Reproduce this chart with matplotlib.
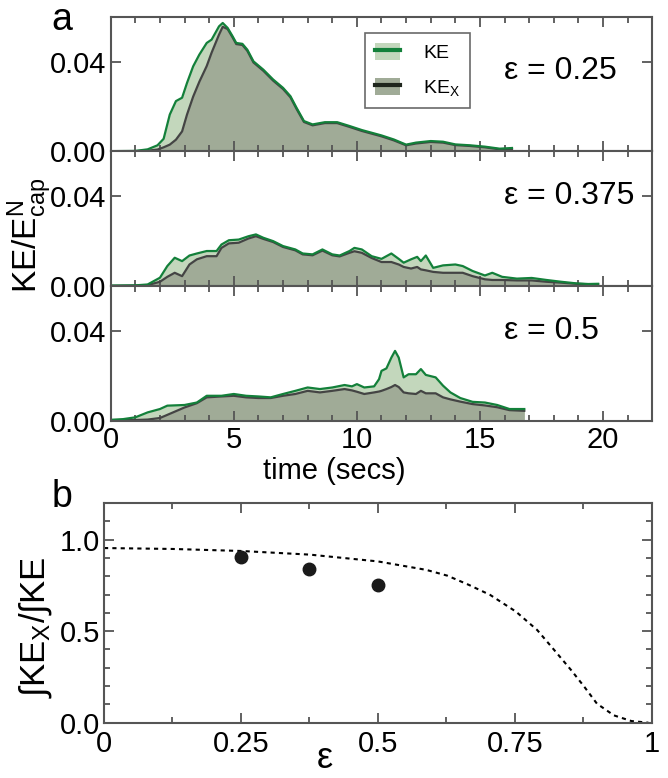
import matplotlib
matplotlib.use('Agg')
import matplotlib.pyplot as plt
from matplotlib.patches import Patch
from matplotlib.lines import Line2D
from matplotlib.ticker import MultipleLocator, FixedLocator

plt.rcParams['font.family'] = ['Liberation Sans', 'DejaVu Sans']
plt.rcParams['mathtext.fontset'] = 'custom'
plt.rcParams['mathtext.rm'] = 'Liberation Sans'
plt.rcParams['mathtext.it'] = 'Liberation Sans'

# panel a, eps = 0.25
t1 = [0, 1.0, 1.5, 1.9, 2.15, 2.4, 2.65, 2.9, 3.1, 3.35, 3.6, 3.9, 4.1, 4.4, 4.55,
      4.75, 4.95, 5.1, 5.35, 5.55, 5.8, 6.2, 6.6, 7.0, 7.3, 7.55, 7.85, 8.2, 8.7, 9.2,
      9.7, 10.2, 11.0, 11.5, 12.0, 12.4, 13.0, 13.5, 14.0, 14.6, 15.2, 15.8, 16.3]
ke1 = [0.0001, 0.0002, 0.0009, 0.0027, 0.0056, 0.0164, 0.0224, 0.0239, 0.0305, 0.0379,
       0.0431, 0.0483, 0.0498, 0.0557, 0.0572, 0.0550, 0.0513, 0.0483, 0.0479, 0.0453,
       0.0401, 0.0364, 0.0320, 0.0283, 0.0246, 0.0194, 0.0135, 0.0120, 0.0130, 0.0130,
       0.0113, 0.0095, 0.0071, 0.0053, 0.0030, 0.0039, 0.0046, 0.0043, 0.0031, 0.0027,
       0.0021, 0.0012, 0.0015]
kex1 = [0.0, 0.0001, 0.0003, 0.0008, 0.0018, 0.0030, 0.0052, 0.0089, 0.0164, 0.0244,
        0.0310, 0.0380, 0.0440, 0.0520, 0.0555, 0.0545, 0.0508, 0.0478, 0.0474, 0.0448,
        0.0396, 0.0359, 0.0315, 0.0278, 0.0241, 0.0189, 0.0131, 0.0116, 0.0126, 0.0126,
        0.0109, 0.0091, 0.0067, 0.0049, 0.0027, 0.0035, 0.0042, 0.0039, 0.0028, 0.0024,
        0.0018, 0.0009, 0.0011]

# panel a, eps = 0.375
t2 = [0, 1.0, 1.5, 2.0, 2.3, 2.6, 2.9, 3.2, 3.5, 3.9, 4.3, 4.5, 4.8, 5.2, 5.6, 5.9,
      6.2, 6.6, 7.0, 7.5, 7.8, 8.2, 8.6, 9.0, 9.3, 9.7, 9.9, 10.2, 10.6, 11.0, 11.4,
      11.7, 11.9, 12.2, 12.45, 12.6, 12.8, 13.1, 13.5, 14.0, 14.3, 14.7, 15.2, 15.5,
      15.9, 16.5, 17.1, 17.7, 18.3, 18.9, 19.4, 19.8]
ke2 = [0.0002, 0.0003, 0.0007, 0.0037, 0.0089, 0.0126, 0.0111, 0.0136, 0.0145, 0.0156,
       0.0156, 0.0185, 0.0204, 0.0207, 0.0222, 0.0230, 0.0215, 0.0200, 0.0178, 0.0163,
       0.0145, 0.0141, 0.0163, 0.0141, 0.0136, 0.0156, 0.0170, 0.0163, 0.0133, 0.0121,
       0.0145, 0.0121, 0.0104, 0.0119, 0.0130, 0.0111, 0.0136, 0.0081, 0.0092, 0.0096,
       0.0089, 0.0067, 0.0047, 0.0059, 0.0041, 0.0033, 0.0036, 0.0027, 0.0019, 0.0012,
       0.0009, 0.0010]
kex2 = [0.0001, 0.0002, 0.0004, 0.0019, 0.0041, 0.0059, 0.0044, 0.0096, 0.0119, 0.0133,
        0.0133, 0.0170, 0.0190, 0.0193, 0.0212, 0.0222, 0.0210, 0.0196, 0.0174, 0.0159,
        0.0141, 0.0137, 0.0158, 0.0137, 0.0132, 0.0148, 0.0155, 0.0148, 0.0125, 0.0107,
        0.0107, 0.0096, 0.0085, 0.0078, 0.0085, 0.0074, 0.0070, 0.0063, 0.0059, 0.0059,
        0.0059, 0.0044, 0.0030, 0.0027, 0.0027, 0.0025, 0.0025, 0.0019, 0.0015, 0.0010,
        0.0008, 0.0008]

# panel a, eps = 0.5
t3 = [0, 0.5, 1.0, 1.5, 2.0, 2.3, 3.0, 3.5, 3.9, 4.5, 5.0, 5.5, 6.0, 6.5, 7.0, 7.5,
      8.0, 8.5, 9.0, 9.5, 9.8, 10.0, 10.3, 10.7, 10.9, 11.0, 11.2, 11.4, 11.55, 11.7,
      11.9, 12.1, 12.4, 12.6, 12.8, 13.2, 13.5, 13.8, 14.2, 14.7, 15.2, 15.7, 16.2, 16.8]
ke3 = [0.0004, 0.0007, 0.0015, 0.0037, 0.0052, 0.0067, 0.0070, 0.0081, 0.0111, 0.0111,
       0.0119, 0.0111, 0.0108, 0.0104, 0.0119, 0.0133, 0.0148, 0.0141, 0.0148, 0.0159,
       0.0153, 0.0163, 0.0148, 0.0153, 0.0185, 0.0222, 0.0233, 0.0281, 0.0311, 0.0281,
       0.0193, 0.0207, 0.0207, 0.0230, 0.0204, 0.0193, 0.0156, 0.0126, 0.0101, 0.0084,
       0.0081, 0.0070, 0.0052, 0.0052]
kex3 = [0.0002, 0.0003, 0.0003, 0.0005, 0.0012, 0.0026, 0.0059, 0.0078, 0.0104, 0.0108,
        0.0111, 0.0104, 0.0101, 0.0101, 0.0111, 0.0119, 0.0133, 0.0126, 0.0133, 0.0141,
        0.0135, 0.0129, 0.0119, 0.0126, 0.0130, 0.0133, 0.0141, 0.0150, 0.0159, 0.0150,
        0.0126, 0.0122, 0.0119, 0.0133, 0.0122, 0.0122, 0.0104, 0.0095, 0.0085, 0.0074,
        0.0068, 0.0060, 0.0047, 0.0044]

eps_labels = ['ε = 0.25', 'ε = 0.375', 'ε = 0.5']

# panel b
eps_pts = [0.25, 0.375, 0.5]
ratio_pts = [0.905, 0.839, 0.753]
eps_curve = [0, 0.125, 0.25, 0.376, 0.5, 0.588, 0.627, 0.666, 0.705, 0.752, 0.791,
             0.822, 0.853, 0.877, 0.9, 0.931, 0.963, 0.994]
ratio_curve = [0.954, 0.949, 0.938, 0.918, 0.881, 0.835, 0.803, 0.753, 0.698, 0.607,
               0.506, 0.397, 0.287, 0.196, 0.104, 0.040, 0.009, 0.0]

KE_LINE = '#13803a'
KE_FILL = '#c3d7bc'
KX_LINE = '#444444'
KX_FILL = '#a0ab97'
FRAME = '#555555'
TICK_FS = 21


def style_axes(ax):
    for s in ax.spines.values():
        s.set_color(FRAME)
        s.set_linewidth(1.5)
    ax.tick_params(which='both', direction='in', top=True, right=True,
                   color=FRAME, width=1.3, labelsize=TICK_FS)
    ax.tick_params(which='major', length=7)
    ax.tick_params(which='minor', length=4)


fig = plt.figure(figsize=(6.68, 7.78), dpi=100)

left, right = 110.7 / 668, 652.3 / 668
top_a, bot_a = 1 - 16.7 / 778, 1 - 420.7 / 778
h = (top_a - bot_a) / 3

data = [(t1, ke1, kex1), (t2, ke2, kex2), (t3, ke3, kex3)]
text_y = [0.594, 0.668, 0.668]
axes_a = []
for i, (t, ke, kex) in enumerate(data):
    ax = fig.add_axes([left, top_a - (i + 1) * h, right - left, h])
    ax.fill_between(t, 0, ke, color=KE_FILL, lw=0)
    ax.fill_between(t, 0, kex, color=KX_FILL, lw=0)
    ax.plot(t, kex, color=KX_LINE, lw=1.6)
    ax.plot(t, ke, color=KE_LINE, lw=1.6)
    ax.set_xlim(0, 22)
    ax.set_ylim(0, 0.06)
    ax.xaxis.set_major_locator(MultipleLocator(5))
    ax.xaxis.set_minor_locator(MultipleLocator(1))
    ax.yaxis.set_major_locator(FixedLocator([0.0, 0.04]))
    ax.set_yticklabels(['0.00', '0.04'])
    style_axes(ax)
    ax.tick_params(axis='y', pad=3)
    ax.tick_params(axis='x', pad=4)
    if i < 2:
        ax.tick_params(labelbottom=False)
    ax.text(0.727, text_y[i], eps_labels[i], transform=ax.transAxes,
            fontsize=23, ha='left', va='center')
    axes_a.append(ax)

fig.text(334 / 668, 1 - 471 / 778, 'time (secs)', fontsize=21, ha='center', va='center')

handles = [(Patch(facecolor=KE_FILL, edgecolor='none'), Line2D([], [], color=KE_LINE, lw=3)),
           (Patch(facecolor=KX_FILL, edgecolor='none'), Line2D([], [], color='#1f261d', lw=3))]
leg = axes_a[0].legend(handles, ['KE', r'KE$_{\mathrm{X}}$'], loc='upper left',
                       bbox_to_anchor=(0.4695, 0.879), borderaxespad=0, fontsize=14,
                       frameon=True, fancybox=False, edgecolor='#444444',
                       handlelength=1.3, handleheight=1.0, labelspacing=0.8,
                       borderpad=0.5, handletextpad=1.2)
leg.get_frame().set_linewidth(1.2)

fig.text(30 / 668, 1 - 235 / 778, r'KE/E$_{\mathrm{cap}}^{\mathrm{N}}$', rotation=90,
         fontsize=24, ha='center', va='center')
fig.text(62 / 668, 1 - 20 / 778, 'a', fontsize=27, ha='center', va='center')

# panel b
axb = fig.add_axes([104 / 668, 1 - 722.7 / 778, (651.7 - 104) / 668, (722.7 - 503) / 778])
axb.plot(eps_curve, ratio_curve, color='black', lw=1.5, linestyle=(0, (2, 2)))
axb.plot(eps_pts, ratio_pts, 'o', color='#1a1a1a', markersize=9)
axb.set_xlim(0, 1)
axb.set_ylim(0, 1.2)
axb.xaxis.set_major_locator(FixedLocator([0, 0.25, 0.5, 0.75, 1]))
axb.set_xticklabels(['0', '0.25', '0.5', '0.75', '1'])
axb.xaxis.set_minor_locator(MultipleLocator(0.125))
axb.yaxis.set_major_locator(FixedLocator([0, 0.5, 1.0]))
axb.set_yticklabels(['0.0', '0.5', '1.0'])
axb.yaxis.set_minor_locator(MultipleLocator(0.1))
style_axes(axb)
axb.tick_params(axis='y', pad=3)
axb.tick_params(axis='x', pad=5)

fig.text(325 / 668, 1 - 758 / 778, 'ε', fontsize=26, ha='center', va='center')
fig.text(36 / 668, 1 - 627 / 778, r'∫KE$_{\mathrm{X}}$/∫KE', rotation=90,
         fontsize=25, ha='center', va='center')
fig.text(62 / 668, 1 - 497 / 778, 'b', fontsize=27, ha='center', va='center')

fig.savefig('out.png', dpi=100)
